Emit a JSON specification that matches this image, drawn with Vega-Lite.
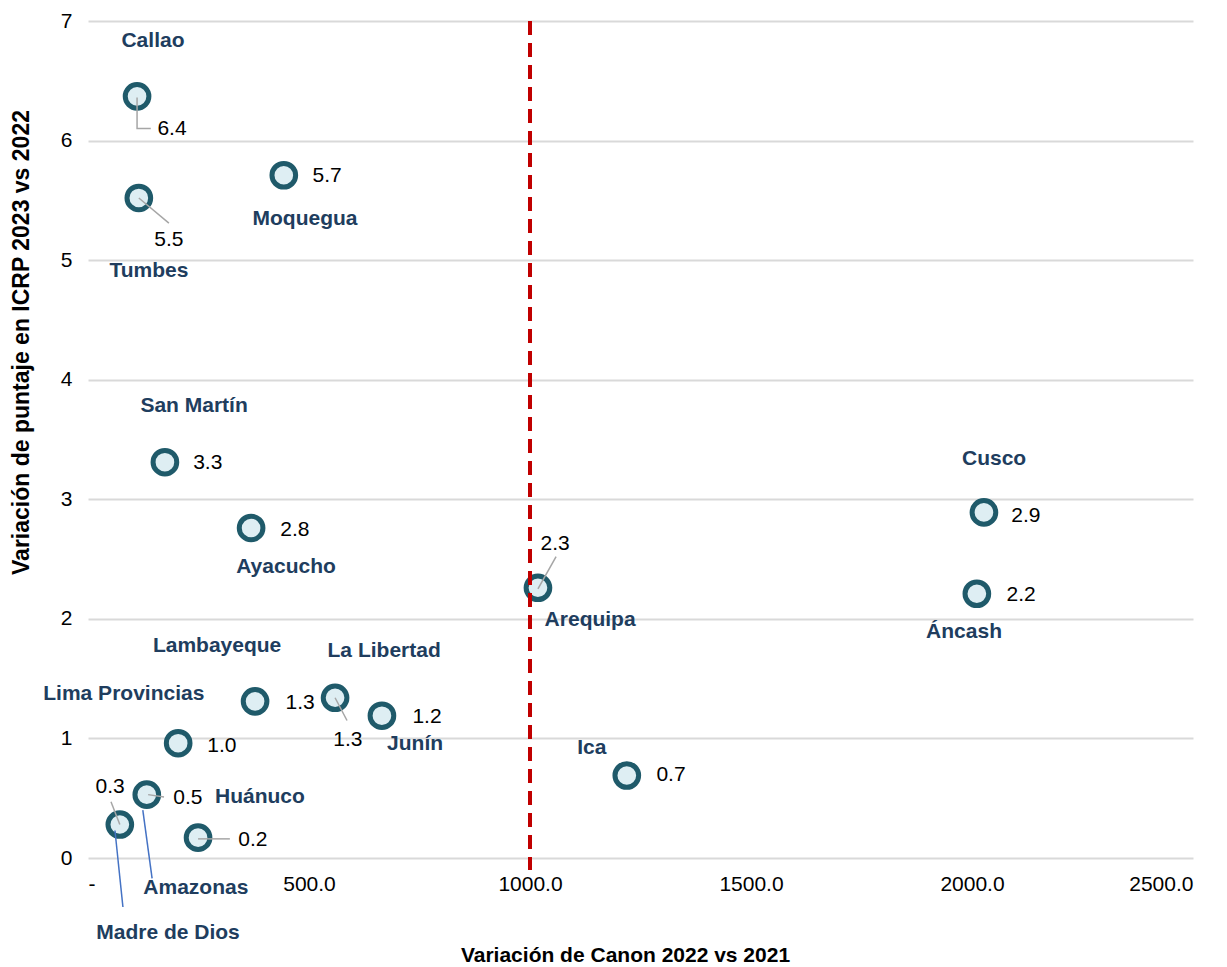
{
  "$schema": "https://vega.github.io/schema/vega-lite/v6.json",
  "width": 1105,
  "height": 837,
  "autosize": "none",
  "padding": {"left": 88, "top": 21, "right": 34, "bottom": 109},
  "background": "white",
  "config": {
    "view": {"stroke": null},
    "font": "Liberation Sans",
    "axis": {"labelFont": "Liberation Sans", "titleFont": "Liberation Sans", "labelColor": "#000000", "titleColor": "#000000"}
  },
  "datasets": {
    "regions": [
      {"region": "Callao", "canon": 111, "icrp": 6.37, "nameX": 147, "nameY": 6.83, "valX": 190, "valY": 6.10},
      {"region": "Tumbes", "canon": 115, "icrp": 5.52, "nameX": 138, "nameY": 4.91, "valX": 183, "valY": 5.17},
      {"region": "Moquegua", "canon": 443, "icrp": 5.71, "nameX": 491, "nameY": 5.34, "valX": 541, "valY": 5.70},
      {"region": "San Martín", "canon": 174, "icrp": 3.31, "nameX": 240, "nameY": 3.78, "valX": 271, "valY": 3.30},
      {"region": "Ayacucho", "canon": 369, "icrp": 2.76, "nameX": 448, "nameY": 2.43, "valX": 468, "valY": 2.74},
      {"region": "Arequipa", "canon": 1018, "icrp": 2.26, "nameX": 1136, "nameY": 1.99, "valX": 1057, "valY": 2.63},
      {"region": "Cusco", "canon": 2027, "icrp": 2.89, "nameX": 2050, "nameY": 3.34, "valX": 2122, "valY": 2.86},
      {"region": "Áncash", "canon": 2011, "icrp": 2.21, "nameX": 1982, "nameY": 1.89, "valX": 2111, "valY": 2.20},
      {"region": "Lambayeque", "canon": 378, "icrp": 1.31, "nameX": 292, "nameY": 1.77, "valX": 480, "valY": 1.30},
      {"region": "La Libertad", "canon": 559, "icrp": 1.34, "nameX": 670, "nameY": 1.73, "valX": 588, "valY": 0.99},
      {"region": "Junín", "canon": 665, "icrp": 1.19, "nameX": 740, "nameY": 0.95, "valX": 767, "valY": 1.18},
      {"region": "Lima Provincias", "canon": 204, "icrp": 0.96, "nameX": 81, "nameY": 1.37, "valX": 303, "valY": 0.94},
      {"region": "Amazonas", "canon": 133, "icrp": 0.53, "nameX": 244, "nameY": -0.25, "valX": 226, "valY": 0.50},
      {"region": "Madre de Dios", "canon": 72, "icrp": 0.28, "nameX": 181, "nameY": -0.63, "valX": 50, "valY": 0.59},
      {"region": "Huánuco", "canon": 249, "icrp": 0.17, "nameX": 389, "nameY": 0.51, "valX": 373, "valY": 0.15},
      {"region": "Ica", "canon": 1219, "icrp": 0.69, "nameX": 1140, "nameY": 0.92, "valX": 1319, "valY": 0.69}
    ],
    "leaders": [
      {"id": "Callao", "kind": "valor", "seq": 1, "x": 111, "y": 6.36},
      {"id": "Callao", "kind": "valor", "seq": 2, "x": 111, "y": 6.10},
      {"id": "Callao", "kind": "valor", "seq": 3, "x": 142, "y": 6.10},
      {"id": "Tumbes", "kind": "valor", "seq": 1, "x": 115, "y": 5.52},
      {"id": "Tumbes", "kind": "valor", "seq": 2, "x": 183, "y": 5.31},
      {"id": "Arequipa", "kind": "valor", "seq": 1, "x": 1018, "y": 2.25},
      {"id": "Arequipa", "kind": "valor", "seq": 2, "x": 1059, "y": 2.52},
      {"id": "La Libertad", "kind": "valor", "seq": 1, "x": 559, "y": 1.34},
      {"id": "La Libertad", "kind": "valor", "seq": 2, "x": 586, "y": 1.15},
      {"id": "Amazonas", "kind": "valor", "seq": 1, "x": 136, "y": 0.53},
      {"id": "Amazonas", "kind": "valor", "seq": 2, "x": 172, "y": 0.51},
      {"id": "Madre de Dios", "kind": "valor", "seq": 1, "x": 72, "y": 0.28},
      {"id": "Madre de Dios", "kind": "valor", "seq": 2, "x": 52, "y": 0.47},
      {"id": "Huánuco", "kind": "valor", "seq": 1, "x": 249, "y": 0.16},
      {"id": "Huánuco", "kind": "valor", "seq": 2, "x": 321, "y": 0.16},
      {"id": "Amazonas-n", "kind": "nombre", "seq": 1, "x": 124, "y": 0.40},
      {"id": "Amazonas-n", "kind": "nombre", "seq": 2, "x": 145, "y": -0.17},
      {"id": "Madre de Dios-n", "kind": "nombre", "seq": 1, "x": 61, "y": 0.23},
      {"id": "Madre de Dios-n", "kind": "nombre", "seq": 2, "x": 79, "y": -0.41}
    ]
  },
  "layer": [
    {
      "data": {"name": "regions"},
      "mark": {"type": "point", "filled": true, "fill": "#deeef3", "stroke": "#1f5a6a", "strokeWidth": 5, "size": 560, "opacity": 1},
      "encoding": {
        "x": {
          "field": "canon", "type": "quantitative",
          "scale": {"domain": [0, 2500], "nice": false, "zero": false},
          "axis": {
            "title": "Variación de Canon 2022 vs 2021",
            "titleFontSize": 21, "titleFontWeight": "bold", "titlePadding": 50,
            "titleX": 537, "titleAlign": "center",
            "values": [0, 500, 1000, 1500, 2000, 2500],
            "labelExpr": "datum.value == 0 ? '-' : format(datum.value, '.1f')",
            "labelFontSize": 21, "labelPadding": 15,
            "domain": false, "ticks": false, "grid": false
          }
        },
        "y": {
          "field": "icrp", "type": "quantitative",
          "scale": {"domain": [0, 7], "nice": false, "zero": false},
          "axis": {
            "title": "Variación de puntaje en ICRP 2023 vs 2022",
            "titleFontSize": 23, "titleFontWeight": "bold", "titlePadding": 27,
            "titleY": 321, "titleAlign": "center",
            "values": [0, 1, 2, 3, 4, 5, 6, 7],
            "format": "d",
            "labelFontSize": 21, "labelPadding": 16,
            "domain": false, "ticks": false,
            "grid": true, "gridColor": "#d9d9d9", "gridWidth": 2
          }
        }
      }
    },
    {
      "data": {"values": [{"ref": 1000, "top": 7, "bottom": -0.1}]},
      "mark": {"type": "rule", "color": "#c00000", "strokeWidth": 4, "strokeDash": [14, 8]},
      "encoding": {
        "x": {"field": "ref", "type": "quantitative"},
        "y": {"field": "top", "type": "quantitative"},
        "y2": {"field": "bottom"}
      }
    },
    {
      "data": {"name": "leaders"},
      "mark": {"type": "line", "strokeWidth": 1.5},
      "encoding": {
        "x": {"field": "x", "type": "quantitative"},
        "y": {"field": "y", "type": "quantitative"},
        "detail": {"field": "id"},
        "order": {"field": "seq"},
        "color": {"field": "kind", "type": "nominal", "scale": {"domain": ["valor", "nombre"], "range": ["#a6a6a6", "#4472c4"]}, "legend": null}
      }
    },
    {
      "data": {"name": "regions"},
      "mark": {"type": "text", "fontSize": 21, "fontWeight": "bold", "color": "#203d5e", "align": "center", "baseline": "middle"},
      "encoding": {
        "x": {"field": "nameX", "type": "quantitative"},
        "y": {"field": "nameY", "type": "quantitative"},
        "text": {"field": "region"}
      }
    },
    {
      "data": {"name": "regions"},
      "mark": {"type": "text", "fontSize": 21, "color": "#000000", "align": "center", "baseline": "middle"},
      "encoding": {
        "x": {"field": "valX", "type": "quantitative"},
        "y": {"field": "valY", "type": "quantitative"},
        "text": {"field": "icrp", "format": ".1f"}
      }
    }
  ]
}
